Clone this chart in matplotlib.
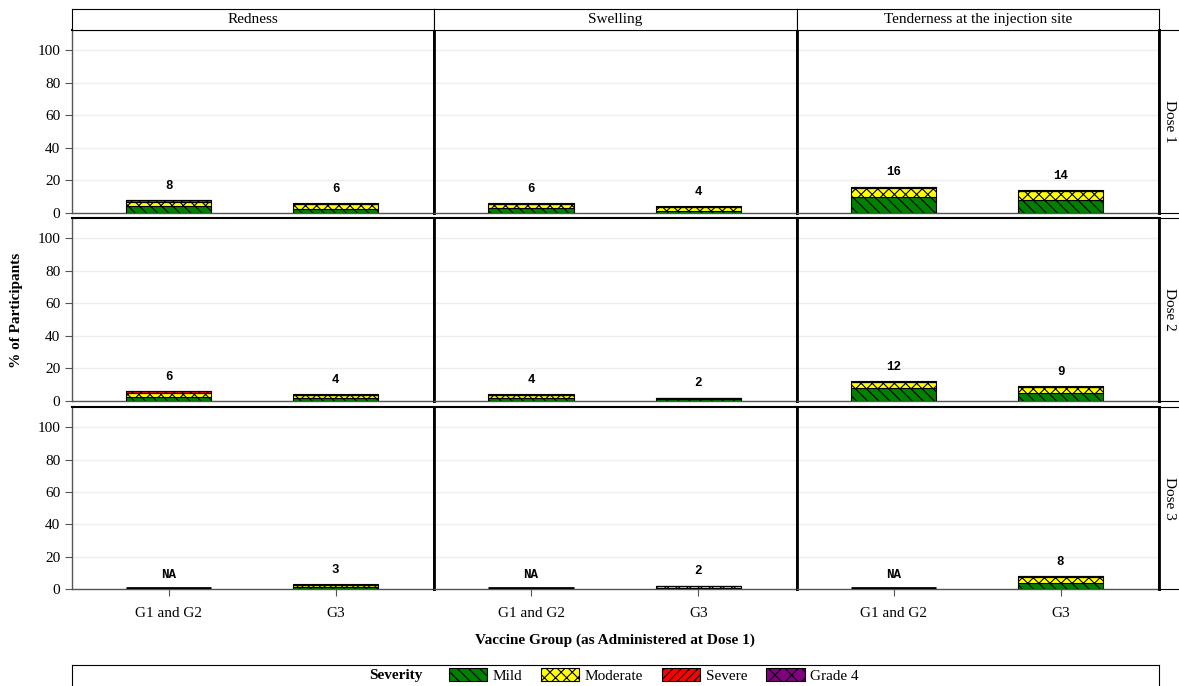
import numpy as np
import matplotlib.pyplot as plt
from matplotlib.patches import Patch

plt.rcParams['font.family'] = ['Liberation Serif', 'DejaVu Serif']
plt.rcParams['hatch.linewidth'] = 0.8

# data: rows = dose, columns = reaction, within each: [G1 and G2, G3]
groups = ["G1 and G2", "G3"]
reactions = ["Redness", "Swelling", "Tenderness at the injection site"]
doses = ["Dose 1", "Dose 2", "Dose 3"]
severities = ["Mild", "Moderate", "Severe", "Grade 4"]

# percentages per dose / reaction / group
mild = [
    [[4.5, 2.5], [3.0, 1.5], [10.0, 8.0]],
    [[2.5, 2.0], [2.0, 1.0], [8.0, 5.0]],
    [[np.nan, 1.2], [np.nan, 0.8], [np.nan, 4.0]],
]
moderate = [
    [[2.0, 3.0], [2.5, 2.0], [5.5, 5.5]],
    [[2.5, 1.5], [1.5, 0.7], [3.5, 3.5]],
    [[np.nan, 1.3], [np.nan, 0.9], [np.nan, 3.5]],
]
severe = [
    [[1.2, 0.3], [0.3, 0.3], [0.4, 0.2]],
    [[1.0, 0.2], [0.3, 0.2], [0.3, 0.3]],
    [[np.nan, 0.2], [np.nan, 0.1], [np.nan, 0.3]],
]
grade4 = [
    [[0.3, 0.3], [0.3, 0.2], [0.2, 0.3]],
    [[0.2, 0.3], [0.2, 0.1], [0.2, 0.2]],
    [[np.nan, 0.3], [np.nan, 0.2], [np.nan, 0.2]],
]
totals = [
    [["8", "6"], ["6", "4"], ["16", "14"]],
    [["6", "4"], ["4", "2"], ["12", "9"]],
    [["NA", "3"], ["NA", "2"], ["NA", "8"]],
]

colors = ["#008000", "#ffff00", "#ff0000", "#800080"]
hatches = ["\\\\\\", "xxx", "////", "xx"]

W, H = 1179, 686
fig = plt.figure(figsize=(W / 100, H / 100), dpi=100)


def px_axes(x0, y0, x1, y1):
    return fig.add_axes([x0 / W, 1 - y1 / H, (x1 - x0) / W, (y1 - y0) / H])


col_x = [(72, 434), (434, 797), (797, 1159)]
row_y = [(30, 213), (218, 401), (407, 589)]
grey = "#555555"
bar_w = 0.51

for r in range(3):
    for c in range(3):
        ax = px_axes(col_x[c][0], row_y[r][0], col_x[c][1], row_y[r][1])
        x = np.arange(len(groups))
        bottom = np.zeros(2)
        layers = [mild, moderate, severe, grade4]
        for k, layer in enumerate(layers):
            vals = np.array(layer[r][c], dtype=float)
            v = np.nan_to_num(vals)
            ax.bar(x, v, bar_w, bottom=bottom, color=colors[k], hatch=hatches[k],
                   edgecolor="black", linewidth=0.8, zorder=3)
            bottom = bottom + v
        for i in range(2):
            if totals[r][c][i] == "NA":
                ax.hlines(0.4, x[i] - bar_w / 2, x[i] + bar_w / 2, color="black",
                          linewidth=2, zorder=4)
            ax.annotate(totals[r][c][i], (x[i], bottom[i]), xytext=(0, 6),
                        textcoords="offset points", ha="center", va="bottom",
                        fontsize=9, fontweight="bold", family="Liberation Mono")
        ax.set_xlim(-0.58, 1.59)
        ax.set_ylim(0, 112.5)
        ax.set_yticks([0, 20, 40, 60, 80, 100])
        ax.grid(axis="y", color="#eeeeee", linewidth=1, zorder=0)
        ax.set_axisbelow(True)
        ax.set_xticks(x)
        ax.tick_params(axis="both", direction="out", length=5, color=grey, labelsize=11)
        if r == 2:
            ax.set_xticklabels(groups)
            ax.tick_params(axis="x", pad=8)
        else:
            ax.tick_params(axis="x", length=0, labelbottom=False)
        if c != 0:
            ax.tick_params(axis="y", length=0, labelleft=False)
        for s in ax.spines.values():
            s.set_color("black")
        ax.spines["bottom"].set_color(grey)
        ax.spines["bottom"].set_linewidth(1)
        ax.spines["right"].set_linewidth(2)
        ax.spines["top"].set_linewidth(1.5)
        if c == 0:
            ax.spines["left"].set_color(grey)
            ax.spines["left"].set_linewidth(1)
        else:
            ax.spines["left"].set_linewidth(2)

# column strips
for c in range(3):
    sax = px_axes(col_x[c][0], 9, col_x[c][1], 30)
    sax.set_xticks([])
    sax.set_yticks([])
    sax.text(0.5, 0.5, reactions[c], ha="center", va="center", fontsize=11,
             transform=sax.transAxes)

# row strips
for r in range(3):
    sax = px_axes(1159, row_y[r][0], 1182, row_y[r][1])
    sax.set_xticks([])
    sax.set_yticks([])
    sax.spines["left"].set_linewidth(2)
    sax.text(0.45, 0.5, doses[r], ha="center", va="center", rotation=-90,
             fontsize=11, transform=sax.transAxes)

fig.text(17 / W, 1 - 310 / H, "% of Participants", rotation=90, ha="center",
         va="center", fontsize=11, fontweight="bold")
fig.text(615 / W, 1 - 640 / H, "Vaccine Group (as Administered at Dose 1)",
         ha="center", va="center", fontsize=11, fontweight="bold")

# legend box
lax = px_axes(72, 665, 1159, 692)
lax.set_xticks([])
lax.set_yticks([])
lax.set_xlim(0, 1)
lax.set_ylim(0, 1)
lax.text((396 - 72) / (1159 - 72), 0.6, "Severity", ha="center", va="center",
         fontsize=11, fontweight="bold")
handles = [Patch(facecolor=colors[k], hatch=hatches[k], edgecolor="black",
                 linewidth=0.8, label=severities[k]) for k in range(4)]
lax.legend(handles=handles, ncol=4, loc="center left", frameon=False,
           bbox_to_anchor=((449 - 72) / (1159 - 72), 0.6), fontsize=11,
           handlelength=2.5, handleheight=0.9, handletextpad=0.35,
           columnspacing=1.25, borderaxespad=0, borderpad=0)

fig.savefig("out.png", dpi=100)
